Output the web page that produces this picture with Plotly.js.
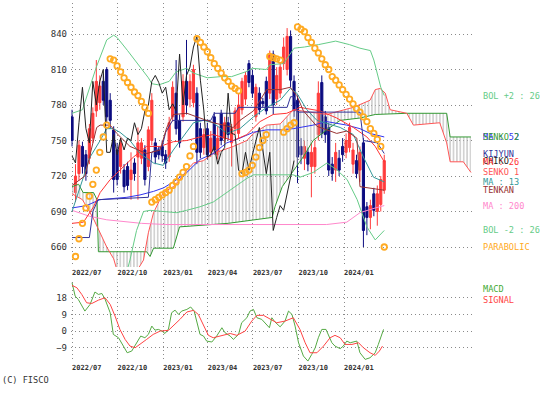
<!DOCTYPE html>
<html><head><meta charset="utf-8">
<script src="https://cdn.plot.ly/plotly-3.0.1.min.js"></script>
<style>html,body{margin:0;padding:0;background:#fff}#c{width:545px;height:393px}</style>
</head><body><div id="c"></div>
<script>
// ---- weekly candles (week index 0 = 2022-07-01) ----
const open  = [770,706,722,745,738,735,752,775,782,800,810,784,759,742,728,725,728,717,731,736,735,742,728,750,748,742,745,738,736,770,790,767,770,800,785,782,790,760,744,760,740,770,738,773,752,765,748,760,756,776,785,815,805,770,790,783,800,790,823,785,790,815,810,838,800,784,745,735,740,728,728,755,799,770,761,730,725,735,745,740,744,730,733,725,748,694,685,705,690,696,708];
const high  = [776,730,750,749,742,764,778,818,805,806,812,790,762,748,752,730,732,740,735,761,752,746,762,790,752,745,750,742,770,800,818,772,806,835,806,814,795,765,760,765,758,774,762,776,770,770,764,778,790,803,808,818,810,798,795,786,804,826,826,812,816,837,845,843,805,788,752,750,744,748,750,800,805,775,765,736,748,742,752,756,765,748,738,745,752,698,700,710,712,720,738];
const low   = [745,698,716,722,716,730,748,770,776,780,765,760,706,712,722,706,708,700,716,700,730,712,724,746,730,734,732,726,732,766,755,744,766,772,778,778,730,735,738,734,736,738,734,746,748,750,728,755,752,772,780,795,786,766,772,778,772,785,772,780,786,810,805,795,770,714,730,725,724,702,722,750,752,748,720,716,715,720,732,735,740,722,718,715,660,670,675,686,678,690,705];
const close = [750,720,746,728,722,760,773,800,796,784,770,767,717,717,748,711,712,725,722,748,748,717,759,784,736,738,737,731,765,795,760,748,800,780,800,810,740,740,755,738,752,742,752,750,765,755,760,775,780,800,805,799,790,795,776,781,775,823,780,805,812,829,838,801,775,736,738,745,730,740,744,790,756,755,725,722,740,725,738,750,761,742,722,740,674,685,695,691,705,717,733];

// ---- indicator lines: [week, value] ----
const bolUpW = [0,3,7,10,12,13,16,19,22,23,25,28,30,33,35,39,43,46,50,52,56,57,61,64,67,71,76,80,83,86,87,89,90];
const bolUpV = [773,776,812,835,839,837,826,815,803,798,797,800,808,811,807,803,804,804,808,811,810,814,815,828,829,831,834,831,828,826,818,795,788];
const bolDnW = [0,5,10,14,16.7,18.6,20.6,22.5,26.3,30.2,33,36.9,40.7,42.7,45.6,48.4,50.4,52.3,60,63.7,65.7,69.5,73.5,76.4,79.3,82.2,85,87.4,90];
const bolDnV = [587,600,595,620,649,674,690,691,690,689,691,694,698,702,708,714,718,721,721,721,719,723,731,725,717,700,677,666,674];
const ma13W = [0,2.3,5.2,8.1,10,11.9,13.8,16.7,19.6,23.5,26.3,29.2,32.1,35,37.9,40.7,44.6,48.4,52.3,56.1,60,62.9,64.8,67.7,70.6,77.3,81.1,84,86.9,90];
const ma13V = [690,711,736,750,760,760,757,750,739,731,729,742,753,765,767,765,756,760,770,778,784,794,790,776,767,761,755,736,719,715];
const ma26W = [0,3.3,6.2,8.1,11,13.8,17.7,21.5,25.4,29.2,33.1,36.9,40.7,46.5,50.4,54.2,58,61.9,65.7,71.5,76.3,81.1,85,87.4,90];
const ma26V = [680,681,694,706,717,725,736,745,745,749,750,753,755,750,755,766,772,773,778,775,769,761,753,745,732];
const ma52W = [0,4.2,8,11.9,15.8,19.6,23.5,26.4,29.2,33.1,36.9,40.7,44.6,48.4,52.3,56.1,60,63.8,69.5,73.4,79.2,83,85.9,90];
const ma52V = [693,695,700,701,702,704,707,710,715,723,734,739,748,752,757,759,759,760,763,766,763,760,756,753];
const ma200W = [0,5,10,20,27,50,63.8,73.4,79.2,83,87.4,90];
const ma200V = [691,686,683,680,679,679,679,679,681,689,693,695];
const tenkanW = [0,3.7,7.1,8.1,11,12.9,16.7,21.5,25.4,27.3,29.2,33.1,36.9,40.7,46.5,48.4,52.3,56.1,60,62.9,64.8,66.7,70.6,76.3,79.2,82.1,83,90];
const tenkanV = [712,720,761,763,763,756,745,739,742,761,772,773,769,765,761,767,775,793,793,795,788,775,762,756,758,752,711,708];
const kijunW = [0,5,6,7.5,22,23,26,27,29,40,41,47,48,62,63,64,65,83,84,88,90];
const kijunV = [668,668,690,700,702,740,745,757,767,767,773,773,778,778,787,787,774,774,750,748,739];
const senko1W = [0,3,6,8,10,12,13,17.7,20.6,22,23.5,26.3,29.2,31.1,33.1,35,37.9,40.7,46.5,50.4,52.3,56.1,60,63.8,73.4,81.1,85.9,87.4,88.8,90.3,91.7,96.5,98.4,106,108,109,112.8,115];
const senko1V = [705,700,685,672,660,650,640,635,649,672,689,706,711,717,725,731,733,739,745,750,756,763,764,776,772,778,784,793,794,790,776,773,763,765,748,732,732,723];
const senko2W = [0,1.9,3.2,6.2,7.2,7.6,21.5,22.5,23.5,29.2,31,45,57.7,58.5,60.6,62.5,66.6,69.5,73.4,77.3,83,87.4,96.5,108,109,115];
const senko2V = [711,713,706,706,700,656,656,652,659,659,677,680,685,694,711,719,736,750,759,767,769,772,773,773,753,753];
const sarV = [652,667,680,693,703,713,725,740,753,763,
  819,818,813,808,803,799,795,791,788,783,778,773,
  698,700,702,704,706,708,712,715,719,723,728,737,745,
  836,833,829,825,820,815,811,807,803,800,796,794,792,
  722,723,725,729,736,744,750,755,
  821,820,819,818,
  757,760,763,765,
  846,844,842,837,833,828,824,819,814,810,804,801,797,793,789,785,781,777,774,770,766,760,756,751,745,
  660];
const macdW = [0,0.9,1.8,3.7,5.2,6.6,7.6,8.6,9.5,11,11.9,13.4,14.8,15.9,17.2,18.7,19.8,21,22,23,23.9,24.9,25.9,26.8,27.8,28.7,29.7,30.7,31.6,33.1,34.2,35.2,36,36.9,37.9,38.8,40.3,41.7,43.2,44.1,45.6,46.5,48,48.9,50.4,51.3,52.3,53.3,54.7,56.1,56.9,57.6,58.5,60,61.4,62.4,63.4,64.3,65.3,66.7,68,69.1,70.1,71,72,73.2,73.9,74.9,75.8,77.3,78.2,79.2,80.2,82.1,83,84.5,85.9,87.4,88.3,89.8];
const macdV = [26.1,18.9,17.1,10.8,14.4,21.1,19.8,20.3,17.3,9.9,-1.8,-3.6,-8.1,-11.7,-10.8,-6.3,-2.7,-3.6,-1.8,2.7,0.5,0.9,0,-1.3,1.1,9.9,11.3,9,10.8,11.7,13,10.8,4.5,-1.8,-2.7,-5.4,-5.9,-2.7,1.8,-0.9,-2.7,-4.5,-1.8,4.5,7.2,10.8,11.7,7.2,6.3,3.6,1.8,7.2,4.9,2.3,5.4,10.8,9,2.7,-6.3,-13.5,-16.2,-12.6,-9,-3.6,0.9,0.9,-1.8,-6.3,-8.1,-9.5,-8.1,-5.4,-6.3,-5.4,-11.7,-15.3,-14.4,-11.7,-7.2,0.9];
const sigW = [0,1.4,2.8,4.2,5.7,7.6,9.5,11,12.4,13.8,15.3,16.7,18.2,19.6,21.5,23.4,25.4,27.8,29.2,31.1,33.1,35,36.4,37.9,39.3,40.7,42.7,45.6,47.5,49.9,51.8,53.3,55.2,57.1,59,61.4,63.8,65.7,67.2,68.6,70.6,72.5,74.4,75.8,77.3,78.7,80.7,82.6,84,85.9,87.4,88.6,89.5];
const sigV = [24.7,23.4,19.8,15.3,14.9,16.7,18,14.4,8.1,0.9,-4.5,-8.1,-9,-7.2,-4.5,-1.8,0,0.4,2.7,6.3,10.3,11.2,9,2.7,-2.3,-3.6,-2.7,-1.3,-2.3,0,5.4,8.5,8.5,6.3,4.5,5.4,7.2,0.9,-6.3,-11.7,-11.7,-8.1,-3.6,-2.3,-3.6,-7.2,-7.2,-6.3,-9,-11.7,-13.1,-10.8,-8.1];

const tickWeeks = [0,13.14,26.29,39.14,52.14,65.29,78.43];
const tickText = ['2022/07','2022/10','2023/01','2023/04','2023/07','2023/10','2024/01'];

// ---- build traces ----
const weeks = close.map((_, i) => i);
const C = {bol:'#66cc88', ma13:'#339999', ma26:'#ff3333', ma52:'#3333ee', ma200:'#ff88cc',
  tenkan:'#993333', kijun:'#333399', s1:'#ff5555', s2:'#339933', chiko:'#222222', sar:'#ffaa22'};
const line = (x, y, color, name) => ({type:'scatter', mode:'lines', x, y, name,
  line:{color, width:1}, hoverinfo:'skip', xaxis:'x', yaxis:'y'});

const chikoX = [], chikoY = [];
close.forEach((c, i) => { if (i >= 26) { chikoX.push(i - 26); chikoY.push(c); } });
const sarX = sarV.map((_, i) => i + 1);

const traces = [
  line(senko2W, senko2V, C.s2, 'SENKO 2'),
  Object.assign(line(senko1W, senko1V, C.s1, 'SENKO 1'), {fill:'tonexty', fillcolor:'rgba(0,0,0,0)',
    fillpattern:{shape:'|', size:3.4, solidity:0.3, fgcolor:'#b4b4b4', bgcolor:'rgba(255,255,255,0)'}}),
  line(ma200W, ma200V, C.ma200, 'MA200'),
  line(bolUpW, bolUpV, C.bol, 'BOL+2'),
  line(bolDnW, bolDnV, C.bol, 'BOL-2'),
  line(ma52W, ma52V, C.ma52, 'MA52'),
  line(ma26W, ma26V, C.ma26, 'MA26'),
  line(ma13W, ma13V, C.ma13, 'MA13'),
  line(kijunW, kijunV, C.kijun, 'KIJYUN'),
  line(tenkanW, tenkanV, C.tenkan, 'TENKAN'),
  line(chikoX, chikoY, C.chiko, 'CHIKO'),
  {type:'candlestick', x:weeks, open, high, low, close, xaxis:'x', yaxis:'y',
    increasing:{line:{color:'#ff3b3b', width:1}, fillcolor:'#ff3b3b'},
    decreasing:{line:{color:'#0c0c80', width:1}, fillcolor:'#0c0c80'},
    whiskerwidth:0, hoverinfo:'skip'},
  {type:'scatter', mode:'markers', x:sarX, y:sarV, xaxis:'x', yaxis:'y', hoverinfo:'skip',
    marker:{symbol:'circle-open', size:5.5, color:C.sar, line:{width:1.8, color:C.sar}}},
  {type:'scatter', mode:'lines', x:macdW, y:macdV, xaxis:'x2', yaxis:'y2', line:{color:'#55aa44', width:1}, hoverinfo:'skip'},
  {type:'scatter', mode:'lines', x:sigW, y:sigV, xaxis:'x2', yaxis:'y2', line:{color:'#ff4444', width:1}, hoverinfo:'skip'}
];

const last = a => a[a.length - 1];
const labels = [
  ['BOL +2 : 26', C.bol, last(bolUpV)],
  ['MA : 52', C.ma52, last(ma52V)],
  ['SENKO 2', C.s2, last(senko2V)],
  ['KIJYUN', C.kijun, last(kijunV)],
  ['CHIKO', C.chiko, last(close)],
  ['MA : 26', C.ma26, last(ma26V)],
  ['SENKO 1', C.s1, last(senko1V)],
  ['MA : 13', C.ma13, last(ma13V)],
  ['TENKAN', C.tenkan, last(tenkanV)],
  ['MA : 200', C.ma200, last(ma200V)],
  ['BOL -2 : 26', C.bol, last(bolDnV)],
  ['PARABOLIC', C.sar, last(sarV)]
];
const mono = 'DejaVu Sans Mono, monospace';
const annotations = labels.map(([t, col, v]) => ({text:t, xref:'paper', yref:'y', x:1.0224, y:v,
  xanchor:'left', yanchor:'middle', showarrow:false, font:{family:mono, size:8.6, color:col}}));
annotations.push({text:'MACD', xref:'paper', yref:'y2', x:1.0224, y:22.7, xanchor:'left', yanchor:'middle', showarrow:false, font:{family:mono, size:8.6, color:'#44aa33'}});
annotations.push({text:'SIGNAL', xref:'paper', yref:'y2', x:1.0224, y:16.7, xanchor:'left', yanchor:'middle', showarrow:false, font:{family:mono, size:8.6, color:'#ff4444'}});
annotations.push({text:'(C) FISCO', xref:'paper', yref:'paper', x:-0.177, y:-0.0501, xanchor:'left', yanchor:'middle', showarrow:false, font:{family:mono, size:8.6, color:'#333'}});

const xax = {range:[-0.3, 115.3], tickmode:'array', tickvals:tickWeeks, ticktext:tickText,
  ticklabelposition:'outside right', ticks:'', showline:false, zeroline:false,
  showgrid:true, gridcolor:'#8a8a8a', griddash:'1px,3px', gridwidth:1,
  tickfont:{family:mono, size:7, color:'#333', weight:'bold'}, rangeslider:{visible:false}, fixedrange:true};
const yax = {ticks:'', showline:false, zeroline:false, showgrid:true, gridcolor:'#8a8a8a', griddash:'1px,3px', gridwidth:1,
  tickfont:{family:mono, size:9, color:'#333'}, tickmode:'array', ticklabelstandoff:3, fixedrange:true};

const layout = {
  width:545, height:393, paper_bgcolor:'#fff', plot_bgcolor:'#fff', showlegend:false,
  margin:{l:71, r:73, t:3, b:31}, boxgap:0.12,
  xaxis:Object.assign({}, xax, {anchor:'y'}),
  xaxis2:Object.assign({}, xax, {anchor:'y2'}),
  yaxis:Object.assign({}, yax, {domain:[0.2646, 1], range:[643.1, 866.2], tickvals:[660,690,720,750,780,810,840]}),
  yaxis2:Object.assign({}, yax, {domain:[0, 0.2228], range:[-16.7, 26.5], tickvals:[-9,0,9,18]}),
  annotations
};
Plotly.newPlot('c', traces, layout, {staticPlot:true, displayModeBar:false});
</script>
</body></html>
